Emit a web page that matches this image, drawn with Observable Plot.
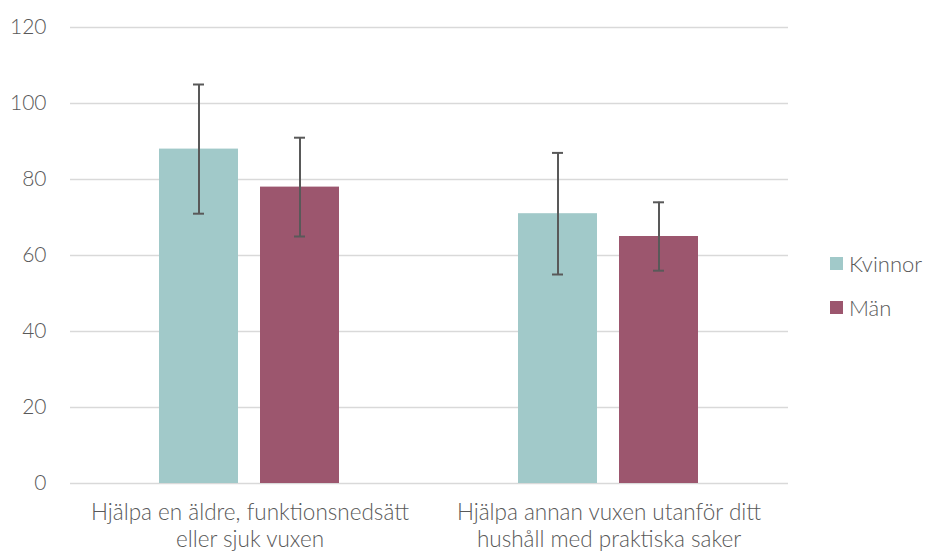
<!DOCTYPE html>
<html>
<head>
<meta charset="utf-8">
<script src="https://cdn.jsdelivr.net/npm/d3@7"></script>
<script src="https://cdn.jsdelivr.net/npm/@observablehq/plot@0.6"></script>
<style>
  html, body { margin: 0; padding: 0; background: #fff; }
  #wrap { position: relative; width: 928px; height: 554px; font-family: Lato, "Open Sans", sans-serif; font-weight: 300; color: #595959; }
  #legend { position: absolute; left: 830px; top: 249px; font-size: 22px; }
  .item { display: flex; align-items: center; height: 28px; margin-bottom: 16px; }
  .sw { width: 13px; height: 13px; margin-right: 6px; }
</style>
</head>
<body>
<div id="wrap"></div>
<script>
const categories = [
  "Hjälpa en äldre, funktionsnedsätt eller sjuk vuxen",
  "Hjälpa annan vuxen utanför ditt hushåll med praktiska saker"
];
const tickLabels = [
  "Hjälpa en äldre, funktionsnedsätt\neller sjuk vuxen",
  "Hjälpa annan vuxen utanför ditt\nhushåll med praktiska saker"
];
const seriesNames = ["Kvinnor", "Män"];
const seriesColors = ["#A1C9C9", "#9C566E"];
const kvinnorValues = [88, 71];
const kvinnorLow = [71, 55];
const kvinnorHigh = [105, 87];
const manValues = [78, 65];
const manLow = [65, 56];
const manHigh = [91, 74];
const yTicks = [0, 20, 40, 60, 80, 100, 120];

const data = [];
categories.forEach((c, i) => {
  data.push({cat: c, series: "Kvinnor", value: kvinnorValues[i], lo: kvinnorLow[i], hi: kvinnorHigh[i]});
  data.push({cat: c, series: "Män", value: manValues[i], lo: manLow[i], hi: manHigh[i]});
});

const chart = Plot.plot({
  width: 928,
  height: 554,
  marginLeft: 70,
  marginRight: 140,
  marginTop: 27,
  marginBottom: 71,
  style: {fontFamily: "Lato, 'Open Sans', sans-serif", fontWeight: 300, color: "#595959", background: "#fff"},
  fx: {domain: categories, paddingInner: 0, paddingOuter: 0},
  x: {domain: seriesNames, paddingInner: 0.216, paddingOuter: 0.868, axis: null},
  y: {domain: [0, 120]},
  color: {domain: seriesNames, range: seriesColors},
  marks: [
    Plot.gridY(yTicks, {stroke: "#d9d9d9", strokeOpacity: 1, strokeWidth: 1.4}),
    Plot.axisY(yTicks, {tickSize: 0, tickPadding: 24, fontSize: 21, fill: "#595959"}),
    Plot.axisFx({anchor: "bottom", tickSize: 0, tickPadding: 18, fontSize: 22.5, lineHeight: 1.18, fill: "#595959",
      tickFormat: d => tickLabels[categories.indexOf(d)], label: null}),
    Plot.barY(data, {fx: "cat", x: "series", y: "value", fill: "series"}),
    Plot.ruleX(data, {fx: "cat", x: "series", y1: "lo", y2: "hi", stroke: "#595959", strokeWidth: 2}),
    Plot.tickY(data, {fx: "cat", x: "series", y: "lo", stroke: "#595959", strokeWidth: 2, insetLeft: 34, insetRight: 34}),
    Plot.tickY(data, {fx: "cat", x: "series", y: "hi", stroke: "#595959", strokeWidth: 2, insetLeft: 34, insetRight: 34})
  ]
});

const wrap = document.getElementById("wrap");
wrap.appendChild(chart);
const legend = document.createElement("div");
legend.id = "legend";
seriesNames.forEach((n, i) => {
  const it = document.createElement("div");
  it.className = "item";
  const sw = document.createElement("div");
  sw.className = "sw";
  sw.style.background = seriesColors[i];
  const t = document.createElement("span");
  t.textContent = n;
  it.appendChild(sw);
  it.appendChild(t);
  legend.appendChild(it);
});
wrap.appendChild(legend);
</script>
</body>
</html>
